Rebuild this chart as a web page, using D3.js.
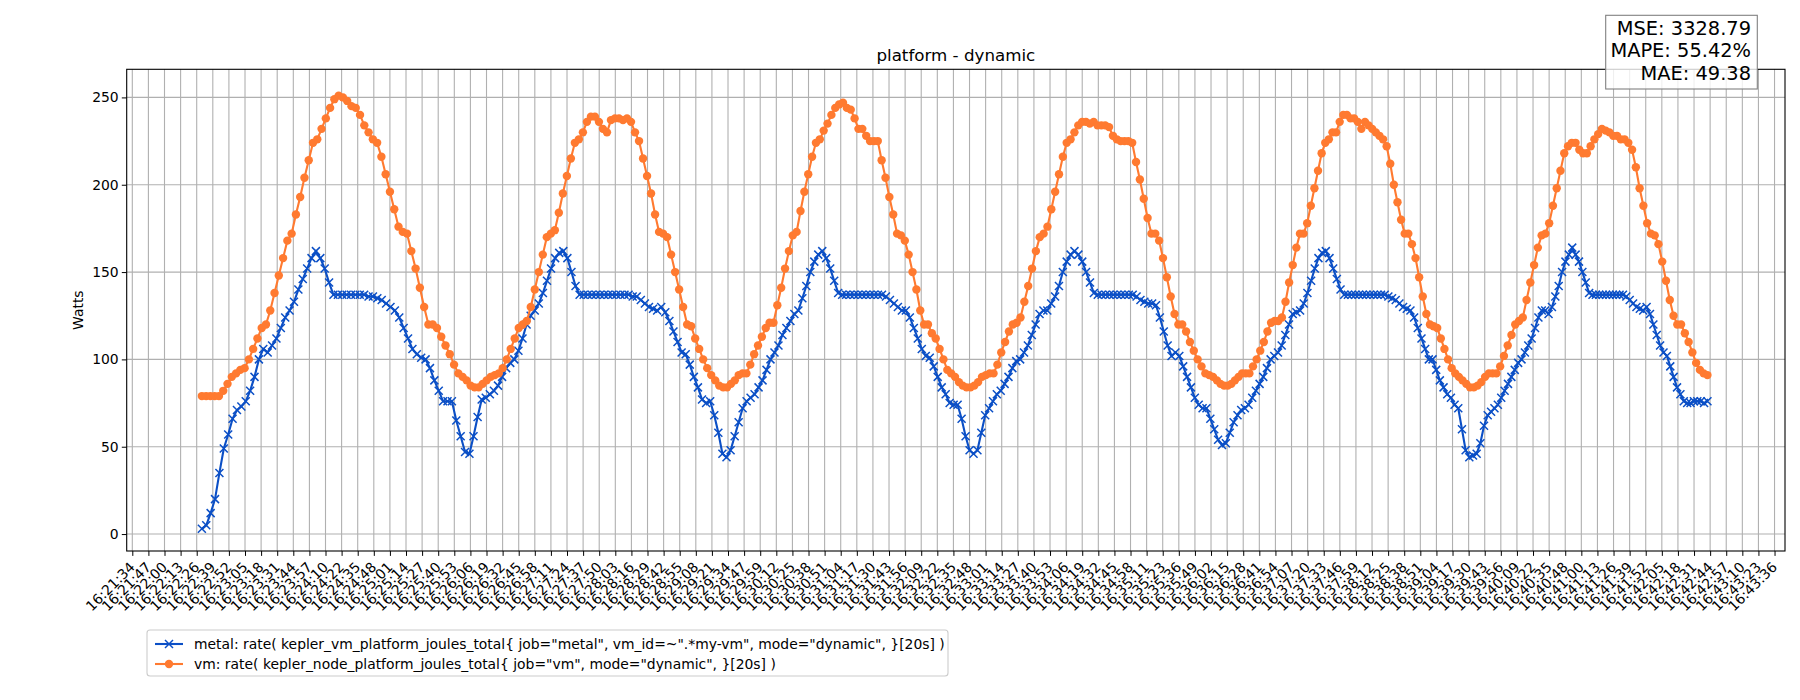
<!DOCTYPE html>
<html><head><meta charset="utf-8">
<script src="https://cdn.jsdelivr.net/npm/d3@7"></script>
<style>body{margin:0;background:#fff}svg{font-family:"DejaVu Sans",sans-serif}</style>
</head><body><svg id="c" width="1800" height="700"></svg>
<script>
// ---- data ----
const tickStartSec = 16*3600 + 21*60 + 34;   // 16:21:34
const tickEndSec = 16*3600 + 43*60 + 36;     // 16:43:36
const tickCount = 103;
const tickLabels = d3.range(tickCount).map(i => {
  const s = Math.round(tickStartSec + i*(tickEndSec - tickStartSec)/(tickCount-1));
  const p = n => String(n).padStart(2, "0");
  return p(Math.floor(s/3600)) + ":" + p(Math.floor(s/60)%60) + ":" + p(s%60);
});
// seconds after 16:21:34 where each cycle of samples starts; last entry = last sample time
const vmCycleStartSec = [56, 265.9, 475.7, 662.3, 873.1, 1070.8, 1268];
const metalCycleStartSec = [56, 271.4, 484.9, 677.2, 889.7, 1091.1, 1268];
const vmCycles = [
[79,79,79,79,79,82,86,90,92,94,95,100,106,112,118,120,
128,138,148,158,168,172,183,193,204,214,224,226,232,238,244,249,251,250,248,245,244,240,
234,230,226,224,216,206,196,186,176,173,172,162,152,141,130,120,120,118,113,108,103,97,92],
[90,88,85,84,84,86,88,90,91,92,95,100,106,112,118,120,122,130,140,150,160,170,172,174,
184,195,205,215,224,226,230,236,239,239,236,232,230,237,238,238,237,238,236,230,225,
215,205,195,183,173,172,170,160,150,140,130,120,119,112,106,100,95,91,88,85],
[84,84,86,88,
91,92,92,97,103,108,113,118,121,121,131,141,152,162,171,173,185,196,206,216,224,226,231,235,
240,244,246,247,244,243,238,232,232,228,225,225,225,214,204,193,183,172,171,168,160,150,140,128,
120,120,115,112,106,100,94,92],
[90,87,85,84,84,85,87,90,91,92,92,97,104,110,116,120,
121,124,133,142,152,162,170,172,176,186,196,206,216,224,226,230,234,236,236,235,236,234,234,234,
233,228,226,225,225,225,224,213,203,192,181,172,172,168,158,147,136,126,120,120,116,110,105,100,
96,92,91,90],
[88,86,85,85,86,88,90,92,92,92,96,100,105,110,116,121,122,122,124,133,
144,154,164,172,172,178,188,198,208,218,224,226,230,230,236,240,240,238,238,236,232,236,234,232,
230,228,226,222,212,200,190,180,172,172,166,158,147,136,126,120,119,118,112,106,100,95,92,90],
[88,86,84,84,85,87,90,92,92,92,96,102,108,114,120,122,124,134,144,154,164,171,172,178,
188,198,208,218,222,224,224,220,218,218,222,226,229,232,231,230,228,228,226,226,224,220,210,198,
188,178,172,171,166,156,145,134,125,120,120,115,110,104,98,94,92,91]];
const metalCycles = [
[3,5,12,20,35,49,57,66,71,73,76,82,90,100,106,104,
108,112,118,124,128,133,140,146,152,158,162,158,152,144,137,137,137,137,137,137,137,137,
136,136,135,134,132,130,128,124,118,112,106,103,101,100,95,88,82,76,76,76,65,56,47],
[46,56,67,77,78,80,82,85,90,95,98,100,105,112,120,125,128,132,138,145,152,158,161,162,
158,150,142,137,137,137,137,137,137,137,137,137,137,137,137,137,136,136,134,132,130,
129,128,130,127,122,116,110,104,103,97,90,84,77,75,76,68,58,46,44,48],
[56,64,72,76,
78,80,84,88,94,100,104,108,114,118,122,126,128,135,142,150,156,160,162,158,152,145,138,137,
137,137,137,137,137,137,137,137,137,137,136,134,132,130,128,128,124,118,112,106,102,101,96,90,
84,80,75,74,74,66,56,48],
[46,48,58,68,72,76,80,82,86,90,95,99,100,104,108,114,
120,126,128,128,132,136,142,150,156,160,162,160,156,150,144,138,137,137,137,137,137,137,137,137,
137,137,136,134,133,132,132,131,124,116,108,102,104,102,96,90,84,78,74,72,72,66,60,54,
51,52,58,64],
[68,71,72,74,78,82,86,90,95,100,102,104,108,114,120,126,127,128,132,138,
145,152,158,161,162,158,152,146,140,137,137,137,137,137,137,137,137,137,137,137,137,136,135,134,
132,130,129,128,124,118,112,106,100,100,94,88,84,80,78,74,72,60,48,44,45,46,52,62],
[68,70,72,74,78,82,86,90,94,98,100,104,108,112,118,124,128,128,126,130,136,142,150,156,
160,164,160,156,150,144,138,137,137,137,137,137,137,137,137,137,137,136,134,132,130,129,128,130,
126,120,114,108,104,102,96,90,84,80,76,75,75,76,76,76,75,76]];
const yTicks = [0,50,100,150,200,250];
const legendLabels = ['metal: rate( kepler_vm_platform_joules_total{ job="metal", vm_id=~".*my-vm", mode="dynamic", }[20s] )',
  'vm: rate( kepler_node_platform_joules_total{ job="vm", mode="dynamic", }[20s] )'];
const statsLines = ["MSE: 3328.79", "MAPE: 55.42%", "MAE: 49.38"];

// ---- drawing ----
const svg = d3.select("#c");
const L = 126.7, R = 1785, T = 69.3, B = 551;
const tickStep = (tickEndSec - tickStartSec)/(tickCount-1);
const x = d3.scaleLinear().domain([-0.348*tickStep, 102.65*tickStep]).range([L, R]);
const y = d3.scaleLinear().domain([-9.7, 266.1]).range([B, T]);
const tickPos = d3.range(tickCount).map(i => i*tickStep);
const blue = "#0b4fc6", orange = "#ff7a30";

const g = svg.append("g");
g.selectAll(".vg").data(tickPos).join("line").attr("x1", d=>x(d)).attr("x2", d=>x(d))
  .attr("y1", T).attr("y2", B).attr("stroke", "#b0b0b0").attr("stroke-width", 1.1);
g.selectAll(".hg").data(yTicks).join("line").attr("x1", L).attr("x2", R)
  .attr("y1", d=>y(d)).attr("y2", d=>y(d)).attr("stroke", "#b0b0b0").attr("stroke-width", 1.1);

const xAxis = d3.axisBottom(x).tickValues(tickPos).tickFormat((d,i)=>tickLabels[i]).tickSize(4.9).tickSizeOuter(0);
const xg = svg.append("g").attr("transform", `translate(0,${B})`).call(xAxis);
xg.select(".domain").remove();
xg.selectAll("text").attr("font-size", 13.9).attr("fill", "#000").attr("font-family", "DejaVu Sans")
  .attr("text-anchor", "end").attr("dy", null).attr("y", 0)
  .attr("transform", "translate(3,17) rotate(-45)");
const yAxis = d3.axisLeft(y).tickValues(yTicks).tickSize(4.9).tickSizeOuter(0);
const yg = svg.append("g").attr("transform", `translate(${L},0)`).call(yAxis);
yg.select(".domain").remove();
yg.selectAll("text").attr("font-size", 13.9).attr("fill", "#000").attr("font-family", "DejaVu Sans").attr("x", -8);
svg.append("rect").attr("x", L).attr("y", T).attr("width", R-L).attr("height", B-T)
  .attr("fill", "none").attr("stroke", "#000").attr("stroke-width", 1.1);

// series: samples spread evenly in time within each cycle
function timed(cycles, starts){
  const out = [];
  cycles.forEach((vals, c) => {
    const t0 = starts[c], t1 = starts[c+1], last = c === cycles.length-1;
    const n = vals.length, div = last ? n-1 : n;
    vals.forEach((v,i) => out.push([t0 + i*(t1-t0)/div, v]));
  });
  return out;
}
const metal = timed(metalCycles, metalCycleStartSec), vm = timed(vmCycles, vmCycleStartSec);
const line = d3.line().x(d=>x(d[0])).y(d=>y(d[1]));
g.append("path").datum(metal).attr("d", line).attr("fill","none").attr("stroke", blue).attr("stroke-width", 2.1);
const xs = 4;
g.append("g").selectAll("path").data(metal).join("path")
  .attr("d", d=>{const cx=x(d[0]), cy=y(d[1]); return `M${cx-xs},${cy-xs}L${cx+xs},${cy+xs}M${cx-xs},${cy+xs}L${cx+xs},${cy-xs}`;})
  .attr("stroke", blue).attr("stroke-width", 1.5);
g.append("path").datum(vm).attr("d", line).attr("fill","none").attr("stroke", orange).attr("stroke-width", 2.1);
g.append("g").selectAll("circle").data(vm).join("circle")
  .attr("cx", d=>x(d[0])).attr("cy", d=>y(d[1])).attr("r", 4.2).attr("fill", orange);

svg.append("text").attr("x", (L+R)/2).attr("y", 61).attr("text-anchor","middle").attr("font-size", 16.7).text("platform - dynamic");
svg.append("text").attr("transform", `translate(83,${(T+B)/2}) rotate(-90)`).attr("text-anchor","middle").attr("font-size", 13.9).text("Watts");

svg.append("rect").attr("x", 1605.7).attr("y", 15.3).attr("width", 151.6).attr("height", 73.7)
  .attr("fill", "rgba(255,255,255,0.8)").attr("stroke", "#808080").attr("stroke-width", 1.1);
svg.selectAll(".st").data(statsLines).join("text").attr("x", 1751).attr("y", (d,i)=>35+i*22.3)
  .attr("text-anchor","end").attr("font-size", 19.4).text(d=>d);

const lg = svg.append("g");
lg.append("rect").attr("x", 147).attr("y", 630).attr("width", 801).attr("height", 46).attr("rx", 3)
  .attr("fill", "rgba(255,255,255,0.8)").attr("stroke", "#cccccc").attr("stroke-width", 1.1);
[[blue,"x"],[orange,"o"]].forEach(([c,m],i)=>{
  const yy = 644 + i*20;
  lg.append("line").attr("x1", 155).attr("x2", 183).attr("y1", yy).attr("y2", yy).attr("stroke", c).attr("stroke-width", 2.1);
  if (m==="x") lg.append("path").attr("d", `M${169-xs},${yy-xs}L${169+xs},${yy+xs}M${169-xs},${yy+xs}L${169+xs},${yy-xs}`).attr("stroke", c).attr("stroke-width",1.5);
  else lg.append("circle").attr("cx", 169).attr("cy", yy).attr("r", 4.2).attr("fill", c);
  lg.append("text").attr("x", 194).attr("y", yy+5).attr("font-size", 13.9).text(legendLabels[i]);
});
</script></body></html>
